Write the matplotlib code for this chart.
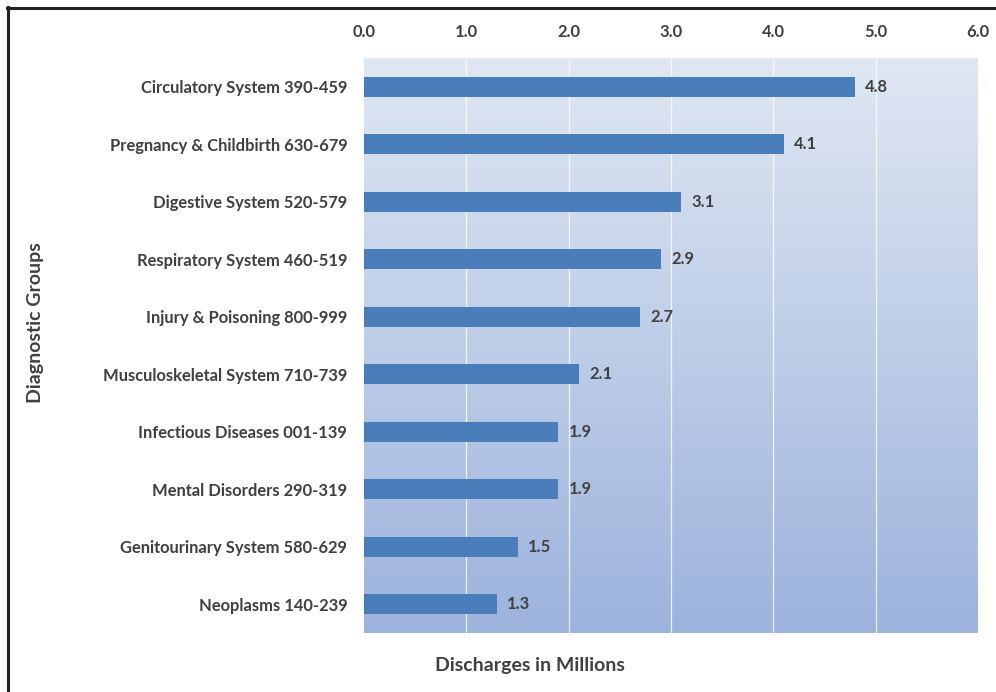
import numpy as np
import matplotlib
matplotlib.use("Agg")
import matplotlib.pyplot as plt
from matplotlib.colors import LinearSegmentedColormap
from matplotlib.lines import Line2D

categories = [
    "Circulatory System 390-459",
    "Pregnancy & Childbirth 630-679",
    "Digestive System 520-579",
    "Respiratory System 460-519",
    "Injury & Poisoning 800-999",
    "Musculoskeletal System 710-739",
    "Infectious Diseases 001-139",
    "Mental Disorders 290-319",
    "Genitourinary System 580-629",
    "Neoplasms 140-239",
]
values = [4.8, 4.1, 3.1, 2.9, 2.7, 2.1, 1.9, 1.9, 1.5, 1.3]
xticks = [0, 1, 2, 3, 4, 5, 6]
xtick_labels = ["0.0", "1.0", "2.0", "3.0", "4.0", "5.0", "6.0"]

TEXT = "#404040"
FONT = "Lato"
plt.rcParams["font.family"] = [FONT, "DejaVu Sans"]
plt.rcParams["font.weight"] = "bold"

fig = plt.figure(figsize=(9.96, 6.92), dpi=100)
ax = fig.add_axes([364/996, 1 - 633/692, (978-364)/996, (633-58)/692])

n = len(categories)
y = np.arange(n)
ax.set_xlim(0, 6)
ax.set_ylim(n - 0.5, -0.5)

# gradient background
cmap = LinearSegmentedColormap.from_list("bg", ["#dfe7f2", "#9db3dd"])
grad = np.linspace(0, 1, 256).reshape(-1, 1)
ax.imshow(grad, cmap=cmap, aspect="auto", extent=[0, 6, n - 0.5, -0.5], zorder=0)

for xt in xticks[1:-1]:
    ax.axvline(xt, color="white", lw=0.9, alpha=0.8, zorder=1)

bars = ax.barh(y, values, height=0.35, color="#4a7ebb", zorder=2)
for yi, v in zip(y, values):
    ax.text(v + 0.1, yi, f"{v:.1f}", va="center", ha="left", fontsize=11.9,
            color=TEXT, fontweight="bold")

ax.xaxis.tick_top()
ax.set_xticks(xticks)
ax.set_xticklabels(xtick_labels)
ax.set_yticks(y)
ax.set_yticklabels(categories)
ax.tick_params(axis="both", length=0, labelsize=11.9, labelcolor=TEXT)
ax.tick_params(axis="x", pad=13)
ax.tick_params(axis="y", pad=12)
for lab in ax.get_xticklabels() + ax.get_yticklabels():
    lab.set_fontweight("bold")
for s in ax.spines.values():
    s.set_visible(False)

fig.text(530/996, 1 - 665/692, "Discharges in Millions", ha="center", va="center",
         fontsize=14, color=TEXT, fontweight="bold")
fig.text(36/996, 1 - 323/692, "Diagnostic Groups", ha="center", va="center",
         rotation=90, fontsize=14, color=TEXT, fontweight="bold")

# outer border (top and left)
fig.add_artist(Line2D([8/996, 8/996], [0, 1 - 7/692], transform=fig.transFigure,
                      color="#222222", lw=2.2))
fig.add_artist(Line2D([7/996, 1], [1 - 8/692, 1 - 8/692], transform=fig.transFigure,
                      color="#222222", lw=2.2))

fig.savefig("out.png", dpi=100)
